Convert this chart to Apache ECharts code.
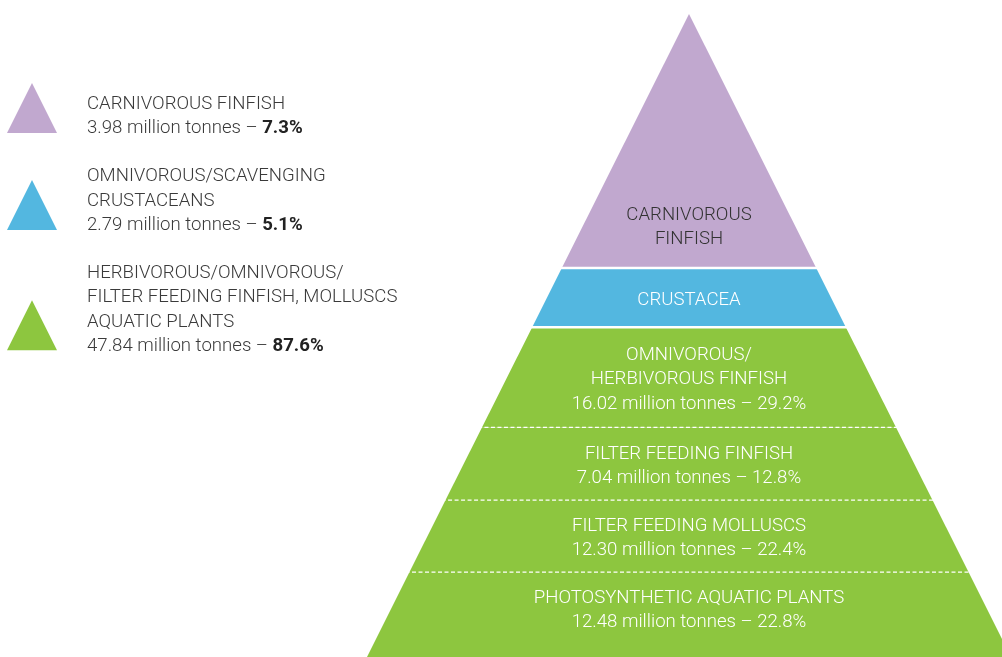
<!DOCTYPE html>
<html><head><meta charset="utf-8">
<script src="https://cdn.jsdelivr.net/npm/echarts@6/dist/echarts.min.js"></script>
<style>html,body{margin:0;padding:0;background:#fff}#c{width:1002px;height:657px}</style>
</head><body><div id="c"></div>
<script>
// ---- data ----
const groupNames = ['CARNIVOROUS FINFISH', 'OMNIVOROUS/SCAVENGING CRUSTACEANS', 'HERBIVOROUS/OMNIVOROUS/FILTER FEEDING FINFISH, MOLLUSCS AQUATIC PLANTS'];
const groupLegendLines = [['CARNIVOROUS FINFISH'], ['OMNIVOROUS/SCAVENGING', 'CRUSTACEANS'], ['HERBIVOROUS/OMNIVOROUS/', 'FILTER FEEDING FINFISH, MOLLUSCS', 'AQUATIC PLANTS']];
const groupTonnes = [3.98, 2.79, 47.84];
const groupShares = [7.3, 5.1, 87.6];
const groupColors = ['#C1A8CF', '#53B7E0', '#8DC63F'];

const bandLabels = [['CARNIVOROUS', 'FINFISH'], ['CRUSTACEA'], ['OMNIVOROUS/', 'HERBIVOROUS FINFISH'], ['FILTER FEEDING FINFISH'], ['FILTER FEEDING MOLLUSCS'], ['PHOTOSYNTHETIC AQUATIC PLANTS']];
const bandTonnes = [null, null, 16.02, 7.04, 12.30, 12.48];
const bandShares = [null, null, 29.2, 12.8, 22.4, 22.8];
const bandGroup = [0, 1, 2, 2, 2, 2];
// band boundaries in pyramid height units (base 0, apex 100)
const bandTop = [100, 60.5, 51.3, 35.7, 24.4, 13.2];
const bandBottom = [60.5, 51.3, 35.7, 24.4, 13.2, 0];

const FONT = 'Roboto';
const FW = 300;
const FS = 18.6;
const LH = 24.4;

function bandText(i) {
  const lines = bandLabels[i].slice();
  if (bandTonnes[i] != null) lines.push(bandTonnes[i].toFixed(2) + ' million tonnes \u2013 ' + bandShares[i].toFixed(1) + '%');
  return lines.join('\n');
}

function renderBand(params, api) {
  const i = api.value(2);
  const top = api.value(0), bot = api.value(1);
  const hw = l => 1 - l / 100;
  const tl = api.coord([-hw(top), top]), tr = api.coord([hw(top), top]);
  const bl = api.coord([-hw(bot), bot]), br = api.coord([hw(bot), bot]);
  const pts = top >= 100 ? [tl, br, bl] : [tl, tr, br, bl];
  const children = [{ type: 'polygon', z2: 0, shape: { points: pts }, style: { fill: api.visual('color') } }];
  if (i > 0) {
    const same = bandGroup[i - 1] === bandGroup[i];
    children.push({
      type: 'line', z2: 10,
      shape: { x1: tl[0] - 4, y1: tl[1], x2: tr[0] + 4, y2: tl[1] },
      style: same ? { stroke: '#fff', lineWidth: 1.2, lineDash: [4, 2.5] } : { stroke: '#fff', lineWidth: 2.5 }
    });
  }
  const dark = bandGroup[i] === 0;
  let ty, va;
  if (top >= 100) { ty = bl[1] - 16; va = 'bottom'; }
  else if (bot <= 0) { ty = tl[1] + 14; va = 'top'; }
  else { ty = (tl[1] + bl[1]) / 2 + 2.5; va = 'middle'; }
  children.push({
    type: 'text', z2: 20,
    style: {
      text: bandText(i), x: (tl[0] + tr[0]) / 2, y: ty,
      align: 'center', verticalAlign: va,
      fill: dark ? '#333333' : '#ffffff',
      fontFamily: FONT, fontWeight: FW, fontSize: FS, lineHeight: LH
    }
  });
  return { type: 'group', children };
}

const series = groupNames.map((name, g) => ({
  type: 'custom', name, z: 2 + g,
  coordinateSystem: 'cartesian2d',
  itemStyle: { color: groupColors[g] },
  renderItem: renderBand,
  encode: { x: -1, y: [0, 1] },
  data: bandGroup.map((bg, i) => bg === g ? [bandTop[i], bandBottom[i], i] : null).filter(d => d)
}));

const legendTops = [75, 164.5, 261];
const legendPads = [[17, 0, 0, 25], [0, 0, 8, 25], [0, 0, 31, 25]];
const legend = groupNames.map((name, g) => ({
  data: [name], orient: 'vertical', left: 7, top: legendTops[g], padding: 0,
  itemWidth: 50, itemHeight: 50, icon: 'triangle', selectedMode: false,
  itemStyle: { borderWidth: 0 },
  formatter: () => groupLegendLines[g].join('\n') + '\n' + groupTonnes[g].toFixed(2) + ' million tonnes \u2013 {b|' + groupShares[g].toFixed(1) + '%}',
  textStyle: {
    fontFamily: FONT, fontWeight: FW, fontSize: FS, color: '#3a3a3a', lineHeight: LH,
    padding: legendPads[g],
    rich: { b: { fontFamily: FONT, fontWeight: 'bold', fontSize: FS, lineHeight: LH, color: '#222' } }
  }
}));

const chart = echarts.init(document.getElementById('c'), null, { renderer: 'canvas' });
chart.setOption({
  animation: false,
  backgroundColor: '#ffffff',
  // pyramid base spans x = -1..1 (367..1011 px); the canvas cuts it at x = 0.972
  grid: { left: 367, top: 14, right: 0, bottom: 0, containLabel: false },
  xAxis: { type: 'value', min: -1, max: 0.972, show: false },
  yAxis: { type: 'value', min: 0, max: 100, show: false },
  legend,
  series
});
</script></body></html>
